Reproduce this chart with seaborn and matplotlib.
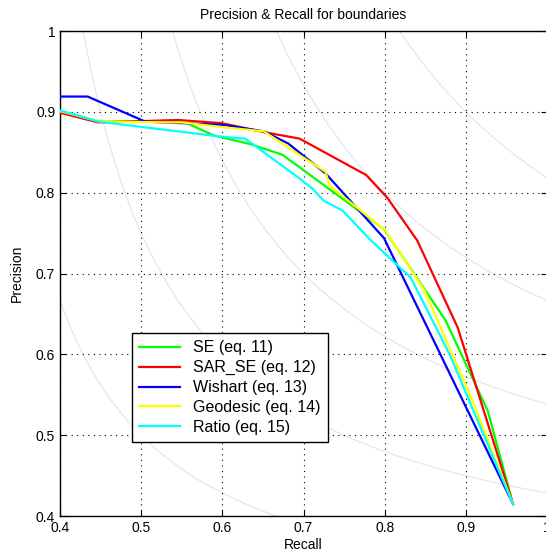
import numpy as np
import pandas as pd
import matplotlib
matplotlib.use("Agg")
import matplotlib.pyplot as plt
import seaborn as sns

# curves (recall, precision)
se_recall = [0.400, 0.449, 0.550, 0.589, 0.635, 0.674, 0.799, 0.875, 0.927, 0.958]
se_prec = [0.901, 0.888, 0.889, 0.871, 0.860, 0.847, 0.755, 0.642, 0.530, 0.415]

sar_recall = [0.400, 0.447, 0.546, 0.600, 0.651, 0.695, 0.777, 0.803, 0.840, 0.890, 0.958]
sar_prec = [0.899, 0.887, 0.890, 0.886, 0.875, 0.867, 0.822, 0.794, 0.741, 0.633, 0.415]

wis_recall = [0.400, 0.434, 0.505, 0.601, 0.651, 0.681, 0.727, 0.799, 0.958]
wis_prec = [0.919, 0.919, 0.888, 0.884, 0.876, 0.861, 0.824, 0.744, 0.415]

geo_recall = [0.400, 0.449, 0.550, 0.602, 0.651, 0.696, 0.727, 0.732, 0.801, 0.849, 0.908, 0.958]
geo_prec = [0.901, 0.888, 0.887, 0.881, 0.876, 0.846, 0.826, 0.809, 0.753, 0.679, 0.543, 0.415]

rat_recall = [0.400, 0.447, 0.602, 0.628, 0.696, 0.711, 0.725, 0.748, 0.781, 0.832, 0.880, 0.958]
rat_prec = [0.902, 0.888, 0.869, 0.867, 0.817, 0.805, 0.790, 0.778, 0.743, 0.695, 0.600, 0.415]

labels = ["SE (eq. 11)", "SAR_SE (eq. 12)", "Wishart (eq. 13)", "Geodesic (eq. 14)", "Ratio (eq. 15)"]
colors = ["#00ff00", "#ff0000", "#0000ff", "#ffff00", "#00ffff"]
iso_f_levels = [0.1, 0.2, 0.3, 0.4, 0.5, 0.6, 0.7, 0.8, 0.9]
tick_vals = [0.4, 0.5, 0.6, 0.7, 0.8, 0.9, 1.0]
tick_labels = ["0.4", "0.5", "0.6", "0.7", "0.8", "0.9", "1"]

# long table for seaborn
frames = []
for lab, r, p in zip(labels,
                     [se_recall, sar_recall, wis_recall, geo_recall, rat_recall],
                     [se_prec, sar_prec, wis_prec, geo_prec, rat_prec]):
    frames.append(pd.DataFrame({"Recall": r, "Precision": p, "method": lab}))
df = pd.concat(frames, ignore_index=True)

plt.rcParams["font.family"] = ["Liberation Sans", "DejaVu Sans"]
plt.rcParams["font.size"] = 10

fig = plt.figure(figsize=(5.46, 5.55), dpi=100)
ax = fig.add_axes([0.110, 0.070, 0.892, 0.874])

# iso-F curves
rr, pp = np.meshgrid(np.linspace(0.01, 1.0, 400), np.linspace(0.01, 1.0, 400))
ff = 2 * rr * pp / (rr + pp)
ax.contour(rr, pp, ff, levels=iso_f_levels, colors=[(0.9, 0.9, 0.9)], linewidths=0.9, zorder=1)

sns.lineplot(data=df, x="Recall", y="Precision", hue="method", hue_order=labels,
             palette=colors, sort=False, estimator=None, linewidth=1.6, ax=ax, zorder=3)

ax.set_xlim(0.4, 1.0)
ax.set_ylim(0.4, 1.0)
ax.set_xticks(tick_vals)
ax.set_xticklabels(tick_labels)
ax.set_yticks(tick_vals)
ax.set_yticklabels(tick_labels)
ax.grid(True, linestyle=(0, (1, 4)), color="black", linewidth=0.8, zorder=2)
ax.tick_params(direction="in", top=True, right=True, length=4, width=0.8, labelsize=10)
for s in ax.spines.values():
    s.set_linewidth(1.0)

ax.set_title("Precision & Recall for boundaries", fontsize=10, pad=9)
ax.set_xlabel("Recall", fontsize=10, labelpad=2)
ax.set_ylabel("Precision", fontsize=10, labelpad=9)

leg = ax.legend(loc="lower left", bbox_to_anchor=(0.147, 0.153), borderaxespad=0,
                frameon=True, fancybox=False, framealpha=1, edgecolor="black",
                handlelength=2.6, borderpad=0.45, labelspacing=0.3, handletextpad=0.8,
                fontsize=11.5)
leg.get_frame().set_linewidth(1.0)

fig.savefig("out.png", dpi=100)
